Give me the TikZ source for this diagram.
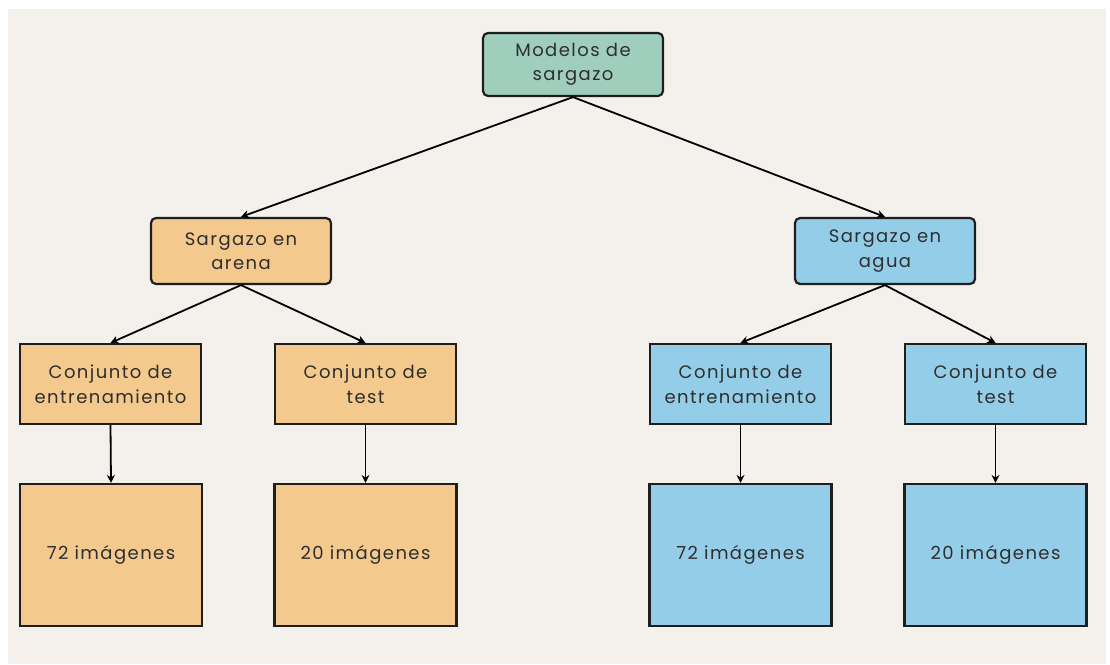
\documentclass[tikz,border=0pt]{standalone}
\usepackage{fontspec}
\setmainfont{Poppins}[LetterSpace=8]
\usetikzlibrary{arrows.meta}
\definecolor{panel}{HTML}{F4F0EC}
\definecolor{teal}{HTML}{9FCEBD}
\definecolor{sand}{HTML}{F4C98E}
\definecolor{sky}{HTML}{94CDE8}
\definecolor{ink}{HTML}{2E2E2E}
\definecolor{edge}{HTML}{1E1E1E}
\tikzset{
  box/.style={draw=edge, line width=2.2pt, text=ink, align=center,
    font=\fontsize{18}{24.5}\selectfont, inner sep=0pt},
  rootbox/.style={box, fill=teal, rounded corners=5pt, minimum width=180pt, minimum height=63pt},
  groupbox/.style={box, rounded corners=5pt, minimum width=180pt, minimum height=66pt},
  setbox/.style={box, minimum width=181pt, minimum height=80pt},
  countbox/.style={box, minimum width=182pt, minimum height=142pt},
  link/.style={draw=black, line width=1.8pt, -{Stealth[length=8pt,width=8pt]}}
}
\begin{document}
\begin{tikzpicture}[x=1pt,y=-1pt]
  \useasboundingbox (0,0) rectangle (1110,664);
  \fill[panel] (8,9) rectangle (1106,664);

  \node[rootbox] (root) at (573,64.5) {Modelos de\\sargazo};

  \node[groupbox, fill=sand] (arena) at (241,251) {Sargazo en\\arena};
  \node[groupbox, fill=sky] (agua) at (885,251) {Sargazo en\\agua};

  \node[setbox, fill=sand] (trainA) at (110.5,384) {Conjunto de\\entrenamiento};
  \node[setbox, fill=sand] (testA) at (365.5,384) {Conjunto de\\test};
  \node[setbox, fill=sky] (trainW) at (740.5,384) {Conjunto de\\entrenamiento};
  \node[setbox, fill=sky] (testW) at (995.5,384) {Conjunto de\\test};

  \node[countbox, fill=sand] (numTrainA) at (111,555) {72 imágenes};
  \node[countbox, fill=sand] (numTestA) at (365.5,555) {20 imágenes};
  \node[countbox, fill=sky] (numTrainW) at (740.5,555) {72 imágenes};
  \node[countbox, fill=sky] (numTestW) at (995.5,555) {20 imágenes};

  \draw[link] (root.south) -- (arena.north);
  \draw[link] (root.south) -- (agua.north);
  \draw[link] (arena.south) -- (trainA.north);
  \draw[link] (arena.south) -- (testA.north);
  \draw[link] (agua.south) -- (trainW.north);
  \draw[link] (agua.south) -- (testW.north);
  \draw[link] (trainA.south) -- (numTrainA.north);
  \draw[link] (testA.south) -- (numTestA.north);
  \draw[link] (trainW.south) -- (numTrainW.north);
  \draw[link] (testW.south) -- (numTestW.north);
\end{tikzpicture}
\end{document}
